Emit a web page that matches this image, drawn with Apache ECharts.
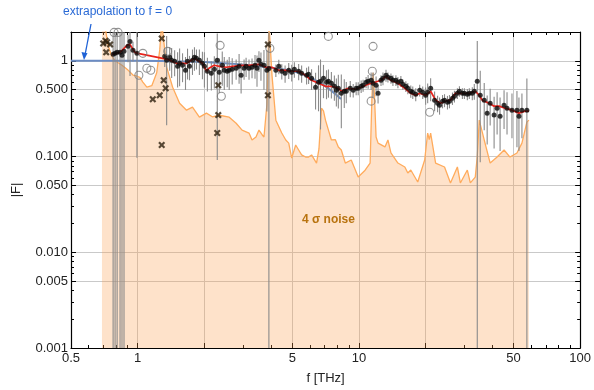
<!DOCTYPE html>
<html>
<head>
<meta charset="utf-8">
<script src="https://cdn.jsdelivr.net/npm/echarts@6/dist/echarts.min.js"></script>
<style>
html,body{margin:0;padding:0;background:#fff;}
#chart{width:594px;height:390px;}
</style>
</head>
<body>
<div id="chart"></div>
<script>
// ---------- data ----------
// 4 sigma noise level
var noiseF = [0.69,0.714,0.736,0.76,0.791,0.82,0.85,0.905,0.953,0.993,1.024,1.056,1.101,1.159,1.22,1.259,1.285,1.312,1.353,1.44,1.548,1.664,1.77,1.902,2.046,2.176,2.339,2.594,2.788,2.966,3.188,3.289,3.428,3.535,3.647,3.724,3.84,3.921,3.98,4.05,4.215,4.483,4.673,4.819,4.971,5.181,5.344,5.511,5.744,5.926,6.112,6.24,6.436,6.6,6.777,6.919,7.064,7.286,7.512,7.83,8.075,8.329,8.682,9.237,9.929,10.67,11.24,11.45,11.59,11.75,11.96,12.21,13.12,13.53,13.96,15.01,16.13,16.64,17.16,18.45,19.83,20.46,20.8,21.1,22.22,24.38,25.94,27.87,28.75,30.91,31.89,33.57,34.28,34.99,36.85,39.2,42.14,45.3,48.19,51.8,54.56,57.44,58.65];
var noiseA = [3,2.2,1.45,1.15,1.0,0.95,0.9,0.8,0.71,0.69,0.67,0.6,0.53,0.55,0.75,1.3,2.5,2.5,0.86,0.53,0.36,0.305,0.328,0.258,0.284,0.26,0.27,0.258,0.223,0.189,0.176,0.149,0.16,0.189,0.17,0.16,0.35,2.5,2.5,0.7,0.24,0.176,0.149,0.138,0.0965,0.132,0.117,0.104,0.0988,0.0988,0.104,0.109,0.0855,0.12,0.32,0.3,0.24,0.189,0.149,0.15,0.126,0.117,0.0855,0.092,0.0611,0.072,0.0855,0.4,0.75,0.45,0.16,0.138,0.126,0.149,0.109,0.0855,0.0778,0.0673,0.0723,0.0542,0.092,0.176,0.15,0.176,0.0855,0.0778,0.053,0.0778,0.053,0.0723,0.053,0.061,0.1,0.24,0.149,0.0855,0.0988,0.117,0.0988,0.109,0.138,0.229,0.24];

// smoothed |F| (red)
var fitF = [0.767,0.833,0.895,0.924,0.972,1.003,1.367,1.501,1.664,1.807,1.963,2.05,2.10,2.22,2.34,2.52,2.68,2.97,3.19,3.54,3.80,4.04,4.35,4.67,4.97,5.34,5.74,6.11,6.57,7.06,7.51,8.08,8.33,8.95,9.63,10.24,11.01,11.83,12.59,13.26,13.96,15.01,16.13,17.16,18.07,18.83,20.03,21.1,22.22,23.39,24.63,25.94,27.31,29.36,31.56,33.57,34.99,36.09,38.79,40.84,43.01,45.77,49.19,52.89,56.26,58.65];
var fitA = [1.169,1.226,1.45,1.485,1.226,1.197,1.037,0.942,0.942,1.062,0.942,0.78,0.835,0.898,0.876,0.856,0.876,0.898,0.898,0.92,0.856,0.856,0.796,0.796,0.778,0.778,0.706,0.626,0.583,0.542,0.542,0.517,0.481,0.517,0.505,0.53,0.569,0.597,0.626,0.69,0.626,0.583,0.517,0.458,0.437,0.458,0.437,0.481,0.388,0.361,0.379,0.388,0.458,0.458,0.458,0.481,0.437,0.388,0.361,0.336,0.336,0.32,0.305,0.284,0.298,0.298];

// extrapolation fit (blue)
var extrapF = [0.5,1,1.5,2,2.7,3.5,4.3,5,5.7,6.6,7.4,8.3];
var extrapA = [1,1,0.985,0.97,0.93,0.88,0.83,0.78,0.71,0.6,0.5,0.4];

// measured |F| points with their errors
var dotF = [0.775,0.791,0.808,0.833,0.85,0.868,0.905,0.924,0.953,0.993,
  1.326,1.353,1.396,1.425,1.47,1.516,1.548,1.596,1.646,1.681,1.716,1.77,1.807,1.845,1.902,1.963,2.004,2.067,2.154,2.222,2.291,2.339,2.413,2.464,2.541,2.594,2.676,2.788,2.875,2.936,3.028,3.092,3.188,3.289,3.393,3.464,3.535,3.609,3.724,3.84,3.92,
  4.215,4.346,4.483,4.64,4.819,4.971,5.11,5.344,5.511,5.803,5.926,6.112,6.372,6.57,6.708,6.919,7.14,7.286,7.512,7.75,7.911,8.075,8.329,8.59,8.77,9.141,9.428,9.72,9.929,10.24,10.45,10.78,11.01,11.36,11.59,11.96,12.21,12.59,12.85,13.26,13.53,13.96,14.25,14.7,15.01,15.48,15.8,16.3,16.64,17.16,17.52,18.07,
  18.83,19.43,20.03,20.46,21.1,21.99,22.68,23.15,23.88,24.38,25.14,25.67,26.48,27.03,27.87,28.47,29.36,29.98,30.91,31.56,32.55,33.23,34.28,35.35,36.85,38.0,39.2,40.84,42.14,43.46,45.3,46.72,49.19,51.8,52.89,54.56,57.44];
var dotA = [1.169,1.197,1.226,1.226,1.141,1.256,1.416,1.596,1.286,1.197,
  1.114,1.012,1.087,1.012,0.988,0.876,0.942,0.898,0.796,0.988,0.876,1.012,1.087,1.062,1.012,0.942,0.876,0.778,0.741,0.815,1.012,0.759,0.898,0.796,0.778,0.796,0.815,0.835,0.876,0.706,0.835,0.876,0.835,0.856,0.898,0.835,1.012,0.92,0.898,0.796,0.83,
  0.796,0.876,0.778,0.741,0.796,0.759,0.815,0.778,0.741,0.706,0.723,0.657,0.53,0.597,0.612,0.657,0.597,0.612,0.583,0.542,0.493,0.517,0.458,0.481,0.481,0.517,0.493,0.517,0.517,0.542,0.556,0.597,0.612,0.626,0.583,0.556,0.458,0.626,0.657,0.706,0.673,0.657,0.626,0.626,0.597,0.612,0.569,0.542,0.517,0.481,0.47,0.448,
  0.493,0.47,0.437,0.47,0.517,0.388,0.361,0.344,0.379,0.388,0.37,0.379,0.406,0.427,0.458,0.481,0.458,0.458,0.448,0.458,0.458,0.481,0.612,0.437,0.388,0.284,0.361,0.271,0.32,0.264,0.344,0.32,0.305,0.305,0.264,0.305,0.305];
var dotErr = [3,3,3,3,3,3,0.45,0.9,0.3,1.1,
  0.25,0.8,0.3,0.35,0.3,0.35,0.4,0.3,0.3,0.35,0.25,0.3,0.3,0.25,0.3,0.3,0.35,0.3,0.25,0.3,0.92,0.3,0.35,0.3,0.25,0.3,0.25,0.2,0.3,0.25,0.2,0.2,0.2,0.2,0.25,0.3,0.25,0.3,0.4,0.5,2,
  0.12,0.15,0.14,0.15,0.15,0.15,0.15,0.15,0.15,0.14,0.15,0.16,0.22,0.3,0.42,0.25,0.2,0.2,0.18,0.16,0.16,0.2,0.26,0.16,0.12,0.1,0.08,0.08,0.08,0.08,0.08,0.08,0.1,0.13,0.17,0.13,0.1,0.08,0.1,0.1,0.08,0.08,0.08,0.08,0.08,0.08,0.07,0.07,0.07,0.07,0.07,0.07,
  0.07,0.07,0.09,0.11,0.14,0.09,0.07,0.07,0.06,0.06,0.06,0.06,0.06,0.06,0.06,0.06,0.06,0.06,0.06,0.06,0.07,0.09,1.0,0.35,0.2,0.15,0.15,0.15,0.15,0.15,0.15,0.15,0.15,0.18,0.15,0.15,0.35];

// outliers: open circles and crosses
var circF = [0.783,0.816,1.056,1.013,1.101,1.147,1.367,2.36,2.39,3.96,7.28,11.59,11.5,11.36,20.9];
var circA = [1.98,1.98,1.197,0.706,0.835,0.796,1.256,1.45,0.427,1.35,1.8,1.416,0.778,0.379,0.29];
var crossF = [0.699,0.716,0.728,0.751,0.721,1.285,1.312,1.339,1.259,1.171,1.285,2.315,2.315,2.29,3.88,3.88];
var crossA = [1.52,1.62,1.56,1.485,1.226,1.71,0.626,0.517,0.437,0.397,0.132,0.556,0.271,0.176,1.485,0.437];

// ticks
var xTickLabels = [0.5,1,5,10,50,100];
var xGridValues = [0.5,1,2,5,10,20,50,100];
var xMinorTicks = [0.6,0.7,0.8,0.9,3,4,6,7,8,9,30,40,60,70,80,90];
var yTickLabels = [0.001,0.005,0.01,0.05,0.1,0.5,1];
var yMinorTicks = [0.002,0.003,0.004,0.006,0.007,0.008,0.009,0.02,0.03,0.04,0.06,0.07,0.08,0.09,0.2,0.3,0.4,0.6,0.7,0.8,0.9];

// ---------- build ----------
function zip(a, b) { return a.map(function (v, i) { return [v, b[i]]; }); }
var FONT = '"Liberation Sans", Arial, Helvetica, sans-serif';
var errData = dotF.map(function (f, i) {
  var lo = dotA[i] - dotErr[i];
  return [f, lo > 0 ? lo : 1e-9, dotA[i] + dotErr[i]];
});
var crossPath = 'path://M0,2.2L2.2,0L5,2.8L7.8,0L10,2.2L7.2,5L10,7.8L7.8,10L5,7.2L2.2,10L0,7.8L2.8,5Z';

function xFmt(v) { return v < 1 ? String(v) : String(Math.round(v)); }
function yFmt(v) { return v >= 1 ? String(Math.round(v)) : v.toFixed(3); }

var frameLine = { show: true, onZero: false, lineStyle: { color: '#000', width: 1.2 } };
function minorAxis(pos, vals, isX) {
  return {
    type: 'log', logBase: 10, position: pos,
    min: isX ? 0.5 : 0.001, max: isX ? 100 : 2,
    axisLine: { show: false, onZero: false },
    axisTick: { show: true, inside: true, length: 3, customValues: vals, lineStyle: { color: '#000', width: 1 } },
    axisLabel: { show: false },
    splitLine: { show: false }
  };
}

var option = {
  animation: false,
  backgroundColor: '#fff',
  grid: { left: 71, top: 32, width: 512, height: 316, containLabel: false },
  xAxis: [
    {
      type: 'log', logBase: 10, min: 0.5, max: 100, position: 'bottom',
      axisLine: frameLine,
      axisTick: { show: true, inside: true, length: 5, customValues: xGridValues, lineStyle: { color: '#000', width: 1 } },
      axisLabel: { customValues: xTickLabels, formatter: xFmt, margin: 4, fontSize: 13, color: '#222', fontFamily: FONT },
      splitLine: { show: true, lineStyle: { color: '#c9c9c9', width: 1 } },
      name: 'f [THz]', nameLocation: 'middle', nameGap: 24,
      nameTextStyle: { fontSize: 13, color: '#222', fontFamily: FONT }
    },
    minorAxis('bottom', xMinorTicks, true),
    {
      type: 'log', logBase: 10, min: 0.5, max: 100, position: 'top',
      axisLine: frameLine,
      axisTick: { show: true, inside: true, length: 5, customValues: xGridValues, lineStyle: { color: '#000', width: 1 } },
      axisLabel: { show: false }, splitLine: { show: false }
    },
    minorAxis('top', xMinorTicks, true)
  ],
  yAxis: [
    {
      type: 'log', logBase: 10, min: 0.001, max: 2, position: 'left',
      axisLine: frameLine,
      axisTick: { show: true, inside: true, length: 5, customValues: yTickLabels, lineStyle: { color: '#000', width: 1 } },
      axisLabel: { customValues: yTickLabels, formatter: yFmt, margin: 3, fontSize: 13, color: '#222', fontFamily: FONT },
      splitLine: { show: true, lineStyle: { color: '#c9c9c9', width: 1 } },
      name: '|F|', nameLocation: 'middle', nameGap: 48, nameRotate: 90,
      nameTextStyle: { fontSize: 13, color: '#222', fontFamily: FONT }
    },
    minorAxis('left', yMinorTicks, false),
    {
      type: 'log', logBase: 10, min: 0.001, max: 2, position: 'right',
      axisLine: frameLine,
      axisTick: { show: true, inside: true, length: 5, customValues: yTickLabels, lineStyle: { color: '#000', width: 1 } },
      axisLabel: { show: false }, splitLine: { show: false }
    },
    minorAxis('right', yMinorTicks, false)
  ],
  series: [
    {
      name: 'noise', type: 'line', z: 1, data: zip(noiseF, noiseA),
      showSymbol: false, symbol: 'none', clip: true,
      lineStyle: { color: '#ffab5c', width: 1.3 },
      areaStyle: { color: 'rgba(253,160,80,0.3)', opacity: 1, origin: 'start' }
    },
    {
      name: 'extrapolation', type: 'line', z: 2, data: zip(extrapF, extrapA),
      showSymbol: false, symbol: 'none', smooth: true,
      lineStyle: { color: '#6b8cc4', width: 2 }
    },
    {
      name: 'errors', type: 'custom', z: 3, data: errData,
      encode: { x: 0, y: [1, 2] },
      renderItem: function (params, api) {
        var cs = params.coordSys;
        var top = cs.y, bottom = cs.y + cs.height;
        var f = api.value(0);
        var p1 = api.coord([f, api.value(1)]);
        var p2 = api.coord([f, api.value(2)]);
        var y1 = Math.max(top, Math.min(bottom, p1[1]));
        var y2 = Math.max(top, Math.min(bottom, p2[1]));
        return {
          type: 'line',
          shape: { x1: p1[0], y1: y1, x2: p1[0], y2: y2 },
          style: { stroke: '#8a8a8a', lineWidth: 1.1 }
        };
      }
    },
    {
      name: 'fit', type: 'line', z: 4, data: zip(fitF, fitA),
      showSymbol: false, symbol: 'none',
      lineStyle: { color: '#e8231c', width: 1.7 }
    },
    {
      name: 'points', type: 'scatter', z: 5, data: zip(dotF, dotA),
      symbol: 'circle', symbolSize: 5,
      itemStyle: { color: '#0a0a0a' }
    },
    {
      name: 'circles', type: 'scatter', z: 5, data: zip(circF, circA),
      symbol: 'circle', symbolSize: 8,
      itemStyle: { color: 'rgba(255,255,255,0)', borderColor: '#7a7a7a', borderWidth: 1.1 }
    },
    {
      name: 'crosses', type: 'scatter', z: 6, data: zip(crossF, crossA),
      symbol: crossPath, symbolSize: 7,
      itemStyle: { color: '#2e200e' }
    }
  ],
  graphic: [
    {
      type: 'text', left: 63, top: 6, z: 10,
      style: { text: 'extrapolation to f = 0', fill: '#2a6ad6', font: '12px ' + FONT }
    },
    {
      type: 'line', z: 10,
      shape: { x1: 91, y1: 24, x2: 85, y2: 55 },
      style: { stroke: '#1f62d6', lineWidth: 1.3 }
    },
    {
      type: 'polygon', z: 10,
      shape: { points: [[84, 60], [81.5, 52], [87.5, 53.2]] },
      style: { fill: '#1f62d6' }
    },
    {
      type: 'text', left: 302, top: 214, z: 10,
      style: { text: '4 σ noise', fill: '#b8730f', font: 'bold 12px ' + FONT }
    }
  ]
};

var chart = echarts.init(document.getElementById('chart'), null, { renderer: 'canvas' });
chart.setOption(option);
</script>
</body>
</html>
